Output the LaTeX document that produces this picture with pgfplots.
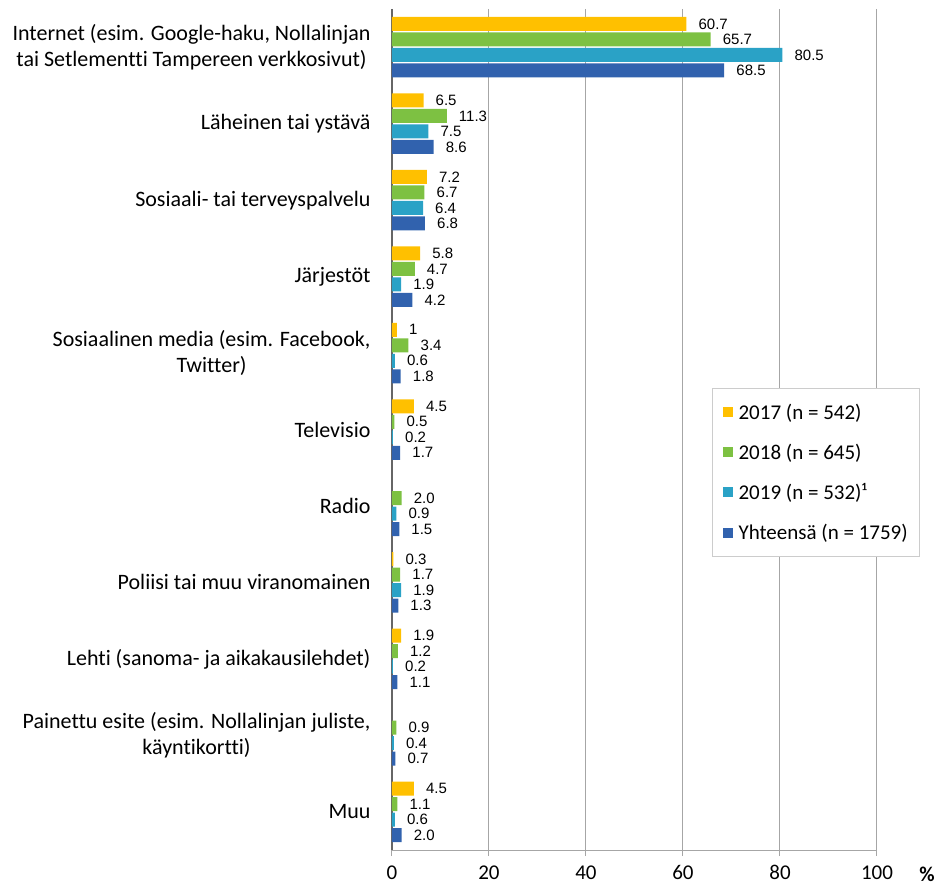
\documentclass[border=0pt]{standalone}
\usepackage{fontspec}
\setmainfont{Carlito}[Ligatures={NoCommon}]
\newfontfamily\arialf{Liberation Sans}
\usepackage{pgfplots}
\pgfplotsset{compat=1.18}
\definecolor{c17}{HTML}{FFC000}
\definecolor{c18}{HTML}{7DC142}
\definecolor{c19}{HTML}{2AA2C6}
\definecolor{cyh}{HTML}{3162AE}

\begin{document}
\begin{tikzpicture}
\begin{axis}[
    xbar, bar width=14pt,
    scale only axis, width=485pt, height=841pt,
    xmin=0, xmax=100, xtick={0,20,...,100},
    ymin=-0.5, ymax=10.5, y dir=reverse,
    ytick={0,...,10},
    yticklabels={
        {Internet (esim. Google-haku, Nollalinjan\\tai Setlementti Tampereen verkkosivut)},
        {Läheinen tai ystävä},
        {Sosiaali- tai terveyspalvelu},
        {Järjestöt},
        {Sosiaalinen media (esim. Facebook,\\Twitter)},
        {Televisio},
        {Radio},
        {Poliisi tai muu viranomainen},
        {Lehti (sanoma- ja aikakausilehdet)},
        {Painettu esite (esim. Nollalinjan juliste,\\käyntikortti)},
        {Muu}
    },
    yticklabel style={align=center, font=\fontsize{22}{26}\selectfont, xshift=-12pt},
    xticklabel style={font=\fontsize{21}{21}\selectfont, yshift=-6pt},
    /pgf/number format/assume math mode=true,
    axis x line*=bottom, axis y line*=left,
    x axis line style={draw=gray!70, line width=1pt},
    y axis line style={draw=black!60, line width=2.5pt},
    tick align=outside, major tick length=6pt,
    xtick style={draw=gray!70, line width=1pt},
    ytick style={draw=none},
    xmajorgrids, grid style={draw=gray!70, line width=1pt},
    xlabel={\textbf{\%}},
    xlabel style={at={(axis description cs:1,0)}, anchor=center, xshift=50pt, yshift=-24pt, font=\fontsize{21}{21}\selectfont},
    nodes near coords, point meta=explicit symbolic,
    every node near coord/.append style={font=\arialf\fontsize{15}{15}\selectfont, black, anchor=west, inner xsep=12pt, inner ysep=0pt},
    legend style={at={(axis description cs:0.66,0.549)}, anchor=north west,
        draw=gray!40, line width=1pt, fill=white, font=\fontsize{21}{21}\selectfont,
        row sep=19pt, column sep=4pt, inner xsep=10pt, inner ysep=13pt},
    legend cell align=left,
    legend image code/.code={\fill[#1] (0pt,-5pt) rectangle (10pt,5pt);},
]
\addplot[fill=c17, draw=none, bar shift=23.25pt] coordinates {
    (60.7,0) [60.7] (6.5,1) [6.5] (7.2,2) [7.2] (5.8,3) [5.8] (1.0,4) [1]
    (4.5,5) [4.5] (0.3,7) [0.3] (1.9,8) [1.9] (4.5,10) [4.5]
};
\addplot[fill=c18, draw=none, bar shift=7.75pt] coordinates {
    (65.7,0) [65.7] (11.3,1) [11.3] (6.7,2) [6.7] (4.7,3) [4.7] (3.4,4) [3.4]
    (0.5,5) [0.5] (2.0,6) [2.0] (1.7,7) [1.7] (1.2,8) [1.2] (0.9,9) [0.9] (1.1,10) [1.1]
};
\addplot[fill=c19, draw=none, bar shift=-7.75pt] coordinates {
    (80.5,0) [80.5] (7.5,1) [7.5] (6.4,2) [6.4] (1.9,3) [1.9] (0.6,4) [0.6]
    (0.2,5) [0.2] (0.9,6) [0.9] (1.9,7) [1.9] (0.2,8) [0.2] (0.4,9) [0.4] (0.6,10) [0.6]
};
\addplot[fill=cyh, draw=none, bar shift=-23.25pt] coordinates {
    (68.5,0) [68.5] (8.6,1) [8.6] (6.8,2) [6.8] (4.2,3) [4.2] (1.8,4) [1.8]
    (1.7,5) [1.7] (1.5,6) [1.5] (1.3,7) [1.3] (1.1,8) [1.1] (0.7,9) [0.7] (2.0,10) [2.0]
};
\legend{2017 (n = 542), 2018 (n = 645), 2019 (n = 532)¹, Yhteensä (n = 1759)}
\end{axis}
% margins as in the reference
\path ([xshift=-392pt,yshift=9pt]current axis.north west)
      ([xshift=63pt,yshift=-32pt]current axis.south east);
\end{tikzpicture}
\end{document}
